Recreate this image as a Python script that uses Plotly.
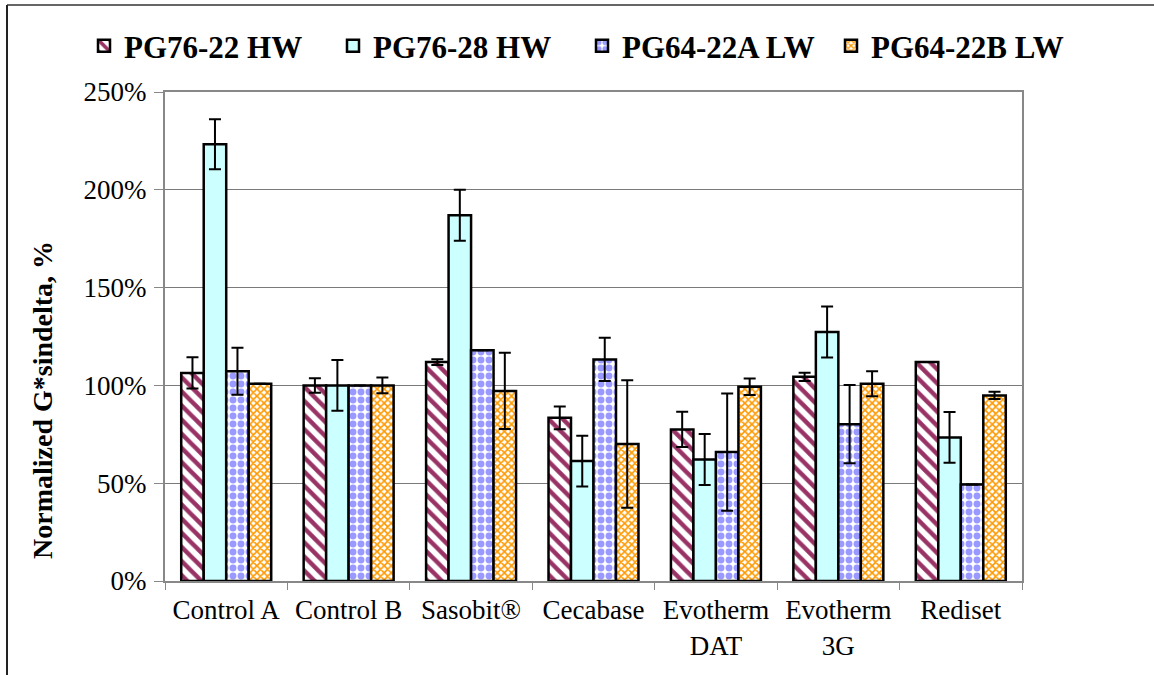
import plotly.graph_objects as go

categories = ["Control A", "Control B", "Sasobit®", "Cecabase",
              "Evotherm<br>DAT", "Evotherm<br>3G", "Rediset"]
series_names = ["PG76-22 HW", "PG76-28 HW", "PG64-22A LW", "PG64-22B LW"]

pg7622_hw = [106.4, 100.0, 111.9, 83.4, 77.5, 104.4, 111.9]
pg7622_hw_err = [8.0, 3.7, 1.5, 5.8, 9.0, 2.1, 0.0]
pg7628_hw = [223.3, 100.0, 187.0, 61.3, 62.1, 127.3, 73.4]
pg7628_hw_err = [12.8, 13.0, 13.0, 13.0, 13.0, 13.0, 13.0]
pg6422a_lw = [107.2, 100.0, 118.0, 113.3, 65.9, 80.2, 49.3]
pg6422a_lw_err = [12.0, 0.0, 0.0, 11.0, 30.0, 20.0, 0.0]
pg6422b_lw = [100.8, 100.0, 97.2, 70.0, 99.3, 100.8, 94.9]
pg6422b_lw_err = [0.0, 4.0, 19.5, 32.6, 4.2, 6.4, 1.9]

values = [pg7622_hw, pg7628_hw, pg6422a_lw, pg6422b_lw]
errors = [pg7622_hw_err, pg7628_hw_err, pg6422a_lw_err, pg6422b_lw_err]

patterns = [
    dict(shape="\\", fgcolor="#993366", bgcolor="white", fgopacity=1, size=10, solidity=0.45),
    dict(shape="", fgcolor="#CCFFFF", bgcolor="#CCFFFF"),
    dict(shape=".", fgcolor="#9999FF", bgcolor="white", fgopacity=1, size=8, solidity=0.58),
    dict(shape="x", fgcolor="#FF9900", bgcolor="white", fgopacity=1, size=5, solidity=0.55),
]
fills = ["white", "#CCFFFF", "white", "white"]

W, H = 1154, 675
L, R, T, B = 165, 1022, 92, 581  # plot area in pixels

def px_x(p):
    return (p - L) / (R - L)

def px_y(p):
    return (B - p) / (B - T)

SERIF = "Liberation Serif"

fig = go.Figure()
for name, vals, errs, pat, fc in zip(series_names, values, errors, patterns, fills):
    fig.add_trace(go.Bar(
        name=name, x=categories, y=vals,
        marker=dict(color=fc, pattern=pat, line=dict(color="black", width=2.5)),
        error_y=dict(type="data", array=errs, visible=True, color="black",
                     thickness=2, width=6),
    ))

fig.update_layout(
    width=W, height=H,
    margin=dict(l=L, r=W - R, t=T, b=H - B, autoexpand=False),
    paper_bgcolor="white", plot_bgcolor="white",
    barmode="group", bargap=0.265, bargroupgap=0,
    font=dict(family=SERIF, color="black", size=25),
    showlegend=True,
    legend=dict(orientation="h", x=px_x(84), xanchor="left", y=px_y(46), yanchor="middle",
                font=dict(family=SERIF, size=31, weight="bold", color="black"),
                bgcolor="rgba(0,0,0,0)", traceorder="normal",
                entrywidth=204, entrywidthmode="pixels", itemwidth=30),
    xaxis=dict(showgrid=False, showline=True, linecolor="#888888", linewidth=2,
               mirror=True, ticks="outside", tickson="boundaries", ticklen=7,
               tickcolor="#888888", tickwidth=1, ticklabelstandoff=4,
               tickfont=dict(family=SERIF, size=27, color="black")),
    yaxis=dict(range=[0, 250], dtick=50, ticksuffix="%", showgrid=True,
               gridcolor="#7a7a7a", gridwidth=1, showline=True, linecolor="#888888",
               linewidth=2, mirror=True, ticks="outside", ticklen=9,
               tickcolor="#888888", tickwidth=1, zeroline=False, ticklabelstandoff=2,
               tickfont=dict(family=SERIF, size=27, color="black")),
    annotations=[dict(text="<b>Normalized G*sindelta, %</b>", textangle=-90,
                      xref="paper", yref="paper", x=px_x(42), y=px_y(400),
                      xanchor="center", yanchor="middle", showarrow=False,
                      font=dict(family=SERIF, size=28, color="black"))],
    shapes=[
        dict(type="line", xref="paper", yref="paper", x0=px_x(7), x1=px_x(1160),
             y0=px_y(5), y1=px_y(5), line=dict(color="#666666", width=2)),
        dict(type="line", xref="paper", yref="paper", x0=px_x(7), x1=px_x(7),
             y0=px_y(5), y1=px_y(680), line=dict(color="#222222", width=2)),
    ],
)

fig.write_html("out.html", config={"displayModeBar": False},
               post_script="document.body.style.margin='0';")
